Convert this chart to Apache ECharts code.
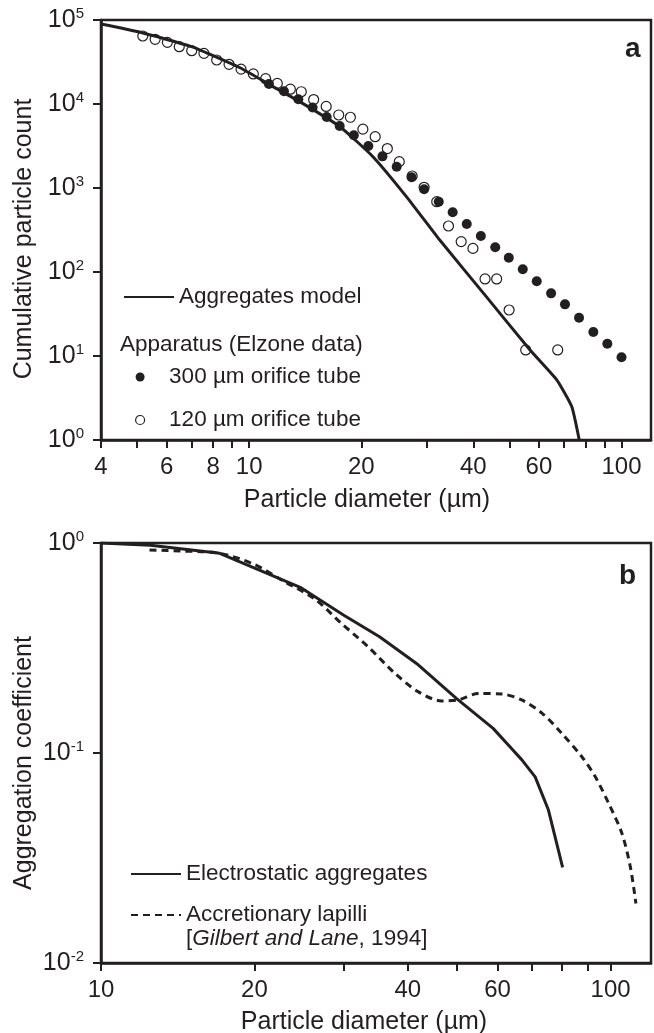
<!DOCTYPE html>
<html><head><meta charset="utf-8">
<script src="https://cdn.jsdelivr.net/npm/echarts@6/dist/echarts.min.js"></script>
<style>html,body{margin:0;padding:0;background:#fff}#c{width:654px;height:1033px}</style>
</head><body><div id="c"></div>
<script>
// ---- Panel a data ----
const modelD = [4, 5.1, 7.0, 9.45, 11.4, 13.7, 17.5, 21.5, 26.5, 32.5, 43, 56.8, 67, 73.5, 77];
const modelN = [89600, 71400, 48100, 27000, 16800, 10600, 5400, 2360, 780, 240, 53, 11.8, 5.2, 2.5, 1.0];
const tube300D = [11.3, 12.4, 13.55, 14.8, 16.15, 17.5, 19.1, 20.9, 22.8, 24.9, 27.3, 29.5, 32.3, 35.2, 38.4, 41.9, 45.8, 49.8, 54.3, 59.2, 64.7, 70.5, 76.9, 84.0, 91.6, 100];
const tube300N = [17300, 14200, 11400, 9100, 7000, 5480, 4250, 3160, 2380, 1790, 1340, 968, 687, 514, 373, 268, 197, 148, 108, 77.5, 55.7, 41.2, 28.6, 19.3, 14.0, 9.66];
const tube120D = [5.18, 5.59, 6.03, 6.49, 7.01, 7.56, 8.18, 8.83, 9.51, 10.26, 11.07, 11.9, 12.9, 13.8, 14.9, 16.1, 17.4, 18.7, 20.2, 21.8, 23.5, 25.3, 27.4, 29.5, 31.9, 34.3, 37.1, 39.9, 43.0, 46.2, 49.9, 55.3, 67.4];
const tube120N = [64500, 58900, 54200, 48100, 43100, 40100, 33400, 29700, 26000, 22800, 20000, 17600, 15000, 14000, 11300, 9350, 7400, 6950, 5020, 4080, 2950, 2060, 1390, 1020, 687, 353, 230, 191, 82.6, 82.6, 35.3, 11.8, 11.8];
const topXTicks = [4, 5, 6, 7, 8, 9, 10, 20, 30, 40, 50, 60, 70, 80, 90, 100];
const topXLabels = [4, 6, 8, 10, 20, 40, 60, 100];

// ---- Panel b data ----
const elecD = [10, 12.5, 17.1, 24.6, 29.9, 35.2, 41.6, 49.8, 58.8, 63.9, 66.9, 71.1, 75.5, 80.5];
const elecV = [1.0, 0.975, 0.893, 0.615, 0.454, 0.358, 0.267, 0.182, 0.131, 0.105, 0.093, 0.077, 0.0535, 0.0285];
const lapD = [12.45, 14.3, 17.1, 20, 22.9, 26.3, 29.6, 33.4, 37.7, 41.9, 46.6, 50.3, 55, 61.1, 66.9, 73.3, 80.2, 87.8, 93.3, 99.1, 105.2, 109.3, 112.1];
const lapV = [0.926, 0.916, 0.893, 0.79, 0.655, 0.54, 0.415, 0.321, 0.24, 0.196, 0.177, 0.179, 0.192, 0.191, 0.179, 0.155, 0.124, 0.096, 0.077, 0.0576, 0.0415, 0.0287, 0.0192];
const botXTicks = [10, 20, 30, 40, 50, 60, 70, 80, 90, 100];
const botXLabels = [10, 20, 40, 60, 100];

const FONT = '"Liberation Sans", Arial, Helvetica, sans-serif';
const INK = '#231f20';
const zip = (a, b) => a.map((v, i) => [v, b[i]]);

const expRich = {
  b: { fontSize: 25, fontFamily: FONT, color: INK, lineHeight: 27 },
  s: { fontSize: 15, fontFamily: FONT, color: INK, verticalAlign: 'top', lineHeight: 15 }
};
const expFmt = v => '{b|10}{s|' + Math.round(Math.log10(v)) + '}';

const axisLine = { show: true, lineStyle: { color: INK, width: 2.5 } };
const tickStyle = { show: true, inside: false, length: 8, lineStyle: { color: INK, width: 2 } };

function xAxis(grid, min, max, ticks, labels, gap, pad) {
  return {
    type: 'log', logBase: 10, gridIndex: grid, min: min, max: max, position: 'bottom',
    axisLine: axisLine,
    axisTick: Object.assign({}, tickStyle, { customValues: ticks }),
    axisLabel: { customValues: labels, margin: 15, fontSize: 24, fontFamily: FONT, color: INK, formatter: v => String(Math.round(v)) },
    splitLine: { show: false }, minorTick: { show: false },
    name: 'Particle diameter (µm)', nameLocation: 'middle', nameGap: gap, nameMoveOverlap: false,
    nameTextStyle: { fontSize: 25, fontFamily: FONT, color: INK, padding: pad }
  };
}
function yAxis(grid, min, max, name, pad) {
  return {
    type: 'log', logBase: 10, gridIndex: grid, min: min, max: max,
    axisLine: axisLine, axisTick: tickStyle,
    axisLabel: { margin: 17, fontSize: 25, fontFamily: FONT, color: INK, formatter: expFmt, rich: expRich },
    splitLine: { show: false }, minorTick: { show: false },
    name: name, nameLocation: 'middle', nameGap: 64, nameMoveOverlap: false,
    nameTextStyle: { fontSize: 25, fontFamily: FONT, color: INK, padding: pad }
  };
}

const legendText = { fontSize: 22.5, fontFamily: FONT, color: INK, lineHeight: 24 };

const chart = echarts.init(document.getElementById('c'), null, { renderer: 'canvas' });
chart.setOption({
  animation: false,
  backgroundColor: '#fff',
  grid: [
    { left: 101, top: 20, width: 550, height: 420, show: true, borderColor: INK, borderWidth: 2.5, backgroundColor: 'transparent', outerBoundsMode: 'none' },
    { left: 101, top: 543, width: 550, height: 420, show: true, borderColor: INK, borderWidth: 2.5, backgroundColor: 'transparent', outerBoundsMode: 'none' }
  ],
  xAxis: [
    xAxis(0, 4, 120, topXTicks, topXLabels, 48, [0, 18, 0, 0]),
    xAxis(1, 10, 120, botXTicks, botXLabels, 47, [0, 24, 0, 0])
  ],
  yAxis: [
    yAxis(0, 1, 100000, 'Cumulative particle count', [0, 18, 0, 0]),
    yAxis(1, 0.01, 1, 'Aggregation coefficient', [0, 20, 0, 0])
  ],
  legend: [
    { left: 123, top: 285, padding: 0, orient: 'vertical', itemWidth: 50, itemHeight: 12, selectedMode: false,
      itemStyle: { opacity: 0 }, textStyle: legendText,
      data: ['Aggregates model'] },
    { left: 135, top: 365, padding: 0, orient: 'vertical', itemWidth: 30, itemHeight: 9, itemGap: 19, selectedMode: false,
      textStyle: Object.assign({}, legendText, { padding: [0, 0, 0, 9] }),
      data: [
        { name: '300 µm orifice tube', icon: 'circle', itemStyle: { color: INK, borderWidth: 0, opacity: 1 } },
        { name: '120 µm orifice tube', icon: 'circle', itemStyle: { color: 'rgba(255,255,255,0)', borderColor: INK, borderWidth: 1.2, opacity: 1 } }
      ] },
    { left: 130, top: 862, padding: 0, orient: 'vertical', itemWidth: 50, itemHeight: 12, itemGap: 17, selectedMode: false,
      itemStyle: { opacity: 0 }, textStyle: legendText,
      data: ['Electrostatic aggregates', 'Accretionary lapilli'] }
  ],
  graphic: [
    { type: 'text', left: 120, top: 333, style: { text: 'Apparatus (Elzone data)', font: '22.5px ' + FONT, fill: INK } },
    { type: 'text', left: 186, top: 927, style: { text: '{n|[}{i|Gilbert and Lane}{n|, 1994]}', rich: {
        n: { fontSize: 22.5, fontFamily: FONT, fill: INK, color: INK },
        i: { fontSize: 22.5, fontFamily: FONT, fontStyle: 'italic', fill: INK, color: INK } } } },
    { type: 'text', left: 625, top: 35, style: { text: 'a', font: 'bold 28px ' + FONT, fill: INK } },
    { type: 'text', left: 619, top: 562, style: { text: 'b', font: 'bold 28px ' + FONT, fill: INK } }
  ],
  series: [
    { type: 'line', name: 'Aggregates model', xAxisIndex: 0, yAxisIndex: 0, data: zip(modelD, modelN),
      showSymbol: false, symbol: 'none', smooth: 0.15, lineStyle: { color: INK, width: 3 }, itemStyle: { color: INK }, z: 2 },
    { type: 'scatter', name: '300 µm orifice tube', xAxisIndex: 0, yAxisIndex: 0, data: zip(tube300D, tube300N),
      symbol: 'circle', symbolSize: 10, symbolKeepAspect: true, itemStyle: { color: INK, opacity: 1 }, z: 3 },
    { type: 'scatter', name: '120 µm orifice tube', xAxisIndex: 0, yAxisIndex: 0, data: zip(tube120D, tube120N),
      symbol: 'circle', symbolSize: 10, symbolKeepAspect: true,
      itemStyle: { color: 'rgba(255,255,255,0)', borderColor: INK, borderWidth: 1.2, opacity: 1 }, z: 4 },
    { type: 'line', name: 'Electrostatic aggregates', xAxisIndex: 1, yAxisIndex: 1, data: zip(elecD, elecV),
      showSymbol: false, symbol: 'none', lineStyle: { color: INK, width: 3 }, itemStyle: { color: INK } },
    { type: 'line', name: 'Accretionary lapilli', xAxisIndex: 1, yAxisIndex: 1, data: zip(lapD, lapV),
      showSymbol: false, symbol: 'none', smooth: 0.3, lineStyle: { color: INK, width: 3, type: [7, 5] }, itemStyle: { color: INK } }
  ]
});
</script></body></html>
